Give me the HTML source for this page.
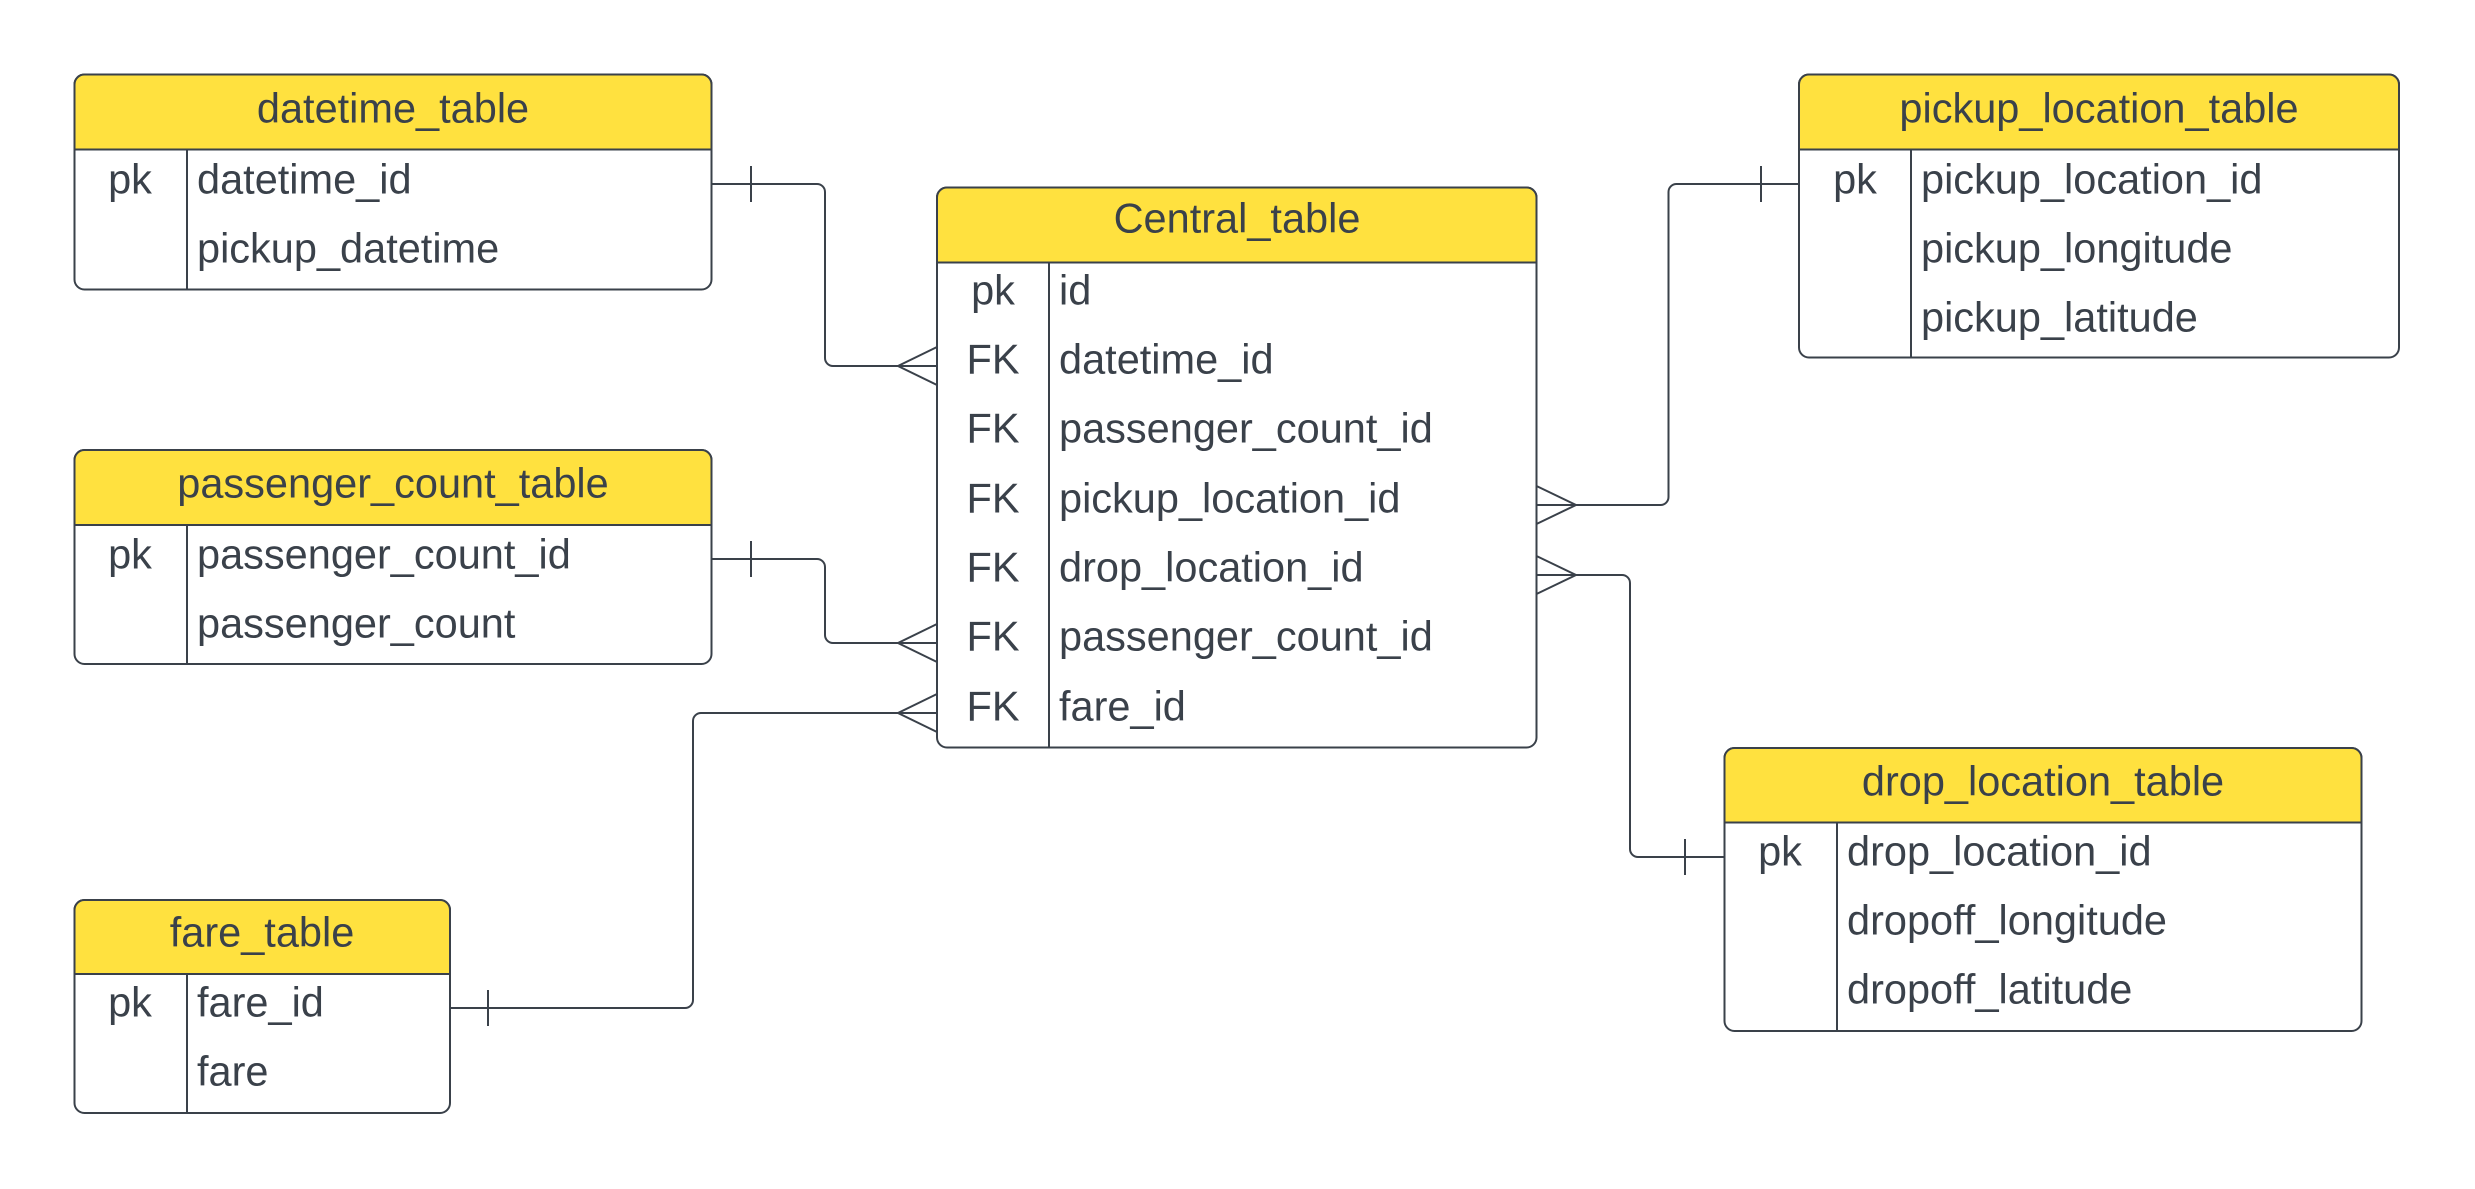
<!DOCTYPE html>
<html><head><meta charset="utf-8"><style>
html,body{margin:0;padding:0;background:#fff;}
svg{display:block;}
text{font-family:"Liberation Sans",Arial,sans-serif;fill:#3a414a;transform:translateY(-2px);}
.h{font-size:41.5px;text-anchor:middle;dominant-baseline:central;}
.r{font-size:41.5px;dominant-baseline:central;}
.k{font-size:41.5px;text-anchor:middle;dominant-baseline:central;}
.ln{fill:none;stroke:#3a414a;stroke-width:2;}
.y{fill:#ffe13f;stroke:#3a414a;stroke-width:2;}
.w{fill:#fff;stroke:#3a414a;stroke-width:2;}
</style></head><body>
<svg width="2475" height="1189" viewBox="0 0 2475 1189" xmlns="http://www.w3.org/2000/svg">
<rect x="74.5" y="74.5" width="637" height="215" rx="10" class="w"/>
<path d="M74.5,149.5 V84.5 a10,10 0 0 1 10,-10 H701.5 a10,10 0 0 1 10,10 V149.5 Z" class="y"/>
<line x1="187" y1="149.5" x2="187" y2="289.5" class="ln"/>
<text class="h" x="393" y="110">datetime_table</text>
<text class="k" x="130" y="181">pk</text>
<text class="r" x="197" y="181">datetime_id</text>
<text class="r" x="197" y="250">pickup_datetime</text>

<rect x="74.5" y="450" width="637" height="214" rx="10" class="w"/>
<path d="M74.5,525 V460 a10,10 0 0 1 10,-10 H701.5 a10,10 0 0 1 10,10 V525 Z" class="y"/>
<line x1="187" y1="525" x2="187" y2="664" class="ln"/>
<text class="h" x="393" y="485">passenger_count_table</text>
<text class="k" x="130" y="556">pk</text>
<text class="r" x="197" y="556">passenger_count_id</text>
<text class="r" x="197" y="625">passenger_count</text>

<rect x="74.5" y="900" width="375.5" height="213" rx="10" class="w"/>
<path d="M74.5,974 V910 a10,10 0 0 1 10,-10 H440 a10,10 0 0 1 10,10 V974 Z" class="y"/>
<line x1="187" y1="974" x2="187" y2="1113" class="ln"/>
<text class="h" x="262" y="934">fare_table</text>
<text class="k" x="130" y="1004">pk</text>
<text class="r" x="197" y="1004">fare_id</text>
<text class="r" x="197" y="1073">fare</text>

<rect x="937" y="187.5" width="599.5" height="560" rx="10" class="w"/>
<path d="M937,262.5 V197.5 a10,10 0 0 1 10,-10 H1526.5 a10,10 0 0 1 10,10 V262.5 Z" class="y"/>
<line x1="1049" y1="262.5" x2="1049" y2="747.5" class="ln"/>
<text class="h" x="1237" y="220">Central_table</text>
<text class="k" x="993" y="292">pk</text><text class="r" x="1059" y="292">id</text>
<text class="k" x="993" y="361">FK</text><text class="r" x="1059" y="361">datetime_id</text>
<text class="k" x="993" y="430">FK</text><text class="r" x="1059" y="430">passenger_count_id</text>
<text class="k" x="993" y="500">FK</text><text class="r" x="1059" y="500">pickup_location_id</text>
<text class="k" x="993" y="569">FK</text><text class="r" x="1059" y="569">drop_location_id</text>
<text class="k" x="993" y="638">FK</text><text class="r" x="1059" y="638">passenger_count_id</text>
<text class="k" x="993" y="708">FK</text><text class="r" x="1059" y="708">fare_id</text>

<rect x="1799" y="74.5" width="600" height="283" rx="10" class="w"/>
<path d="M1799,149.5 V84.5 a10,10 0 0 1 10,-10 H2389 a10,10 0 0 1 10,10 V149.5 Z" class="y"/>
<line x1="1911" y1="149.5" x2="1911" y2="357.5" class="ln"/>
<text class="h" x="2099" y="110">pickup_location_table</text>
<text class="k" x="1855" y="181">pk</text>
<text class="r" x="1921" y="181">pickup_location_id</text>
<text class="r" x="1921" y="250">pickup_longitude</text>
<text class="r" x="1921" y="319">pickup_latitude</text>

<rect x="1724.5" y="748" width="637" height="283" rx="10" class="w"/>
<path d="M1724.5,822.5 V758 a10,10 0 0 1 10,-10 H2351.5 a10,10 0 0 1 10,10 V822.5 Z" class="y"/>
<line x1="1837" y1="822.5" x2="1837" y2="1031" class="ln"/>
<text class="h" x="2043" y="783">drop_location_table</text>
<text class="k" x="1780" y="853">pk</text>
<text class="r" x="1847" y="853">drop_location_id</text>
<text class="r" x="1847" y="922">dropoff_longitude</text>
<text class="r" x="1847" y="991">dropoff_latitude</text>

<g class="ln">
<path d="M711.5,184 H817 a8,8 0 0 1 8,8 V358 a8,8 0 0 0 8,8 H937"/>
<line x1="751" y1="166" x2="751" y2="202"/>
<path d="M937,347 L898,366 L937,385"/>
<path d="M711.5,559 H817 a8,8 0 0 1 8,8 V635 a8,8 0 0 0 8,8 H937"/>
<line x1="751" y1="541" x2="751" y2="577"/>
<path d="M937,624 L898,643 L937,662"/>
<path d="M450,1008 H685 a8,8 0 0 0 8,-8 V721 a8,8 0 0 1 8,-8 H937"/>
<line x1="488" y1="990" x2="488" y2="1026"/>
<path d="M937,694 L898,713 L937,732"/>
<path d="M1536.5,505 H1660.5 a8,8 0 0 0 8,-8 V192 a8,8 0 0 1 8,-8 H1799"/>
<line x1="1761" y1="166" x2="1761" y2="202"/>
<path d="M1536.5,486 L1576,505 L1536.5,524"/>
<path d="M1536.5,575 H1622 a8,8 0 0 1 8,8 V849 a8,8 0 0 0 8,8 H1724.5"/>
<line x1="1685" y1="839" x2="1685" y2="875"/>
<path d="M1536.5,556 L1576,575 L1536.5,594"/>
</g>
</svg>
</body></html>
